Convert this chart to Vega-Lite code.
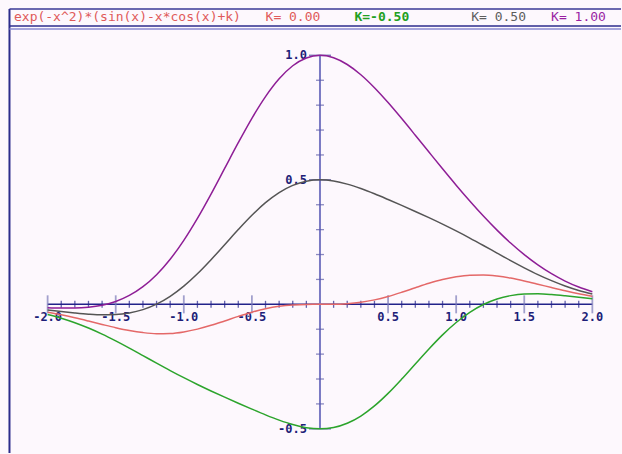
{
  "$schema": "https://vega.github.io/schema/vega-lite/v6.json",
  "width": 622,
  "height": 454,
  "autosize": {"type": "fit", "contains": "padding"},
  "padding": 0,
  "background": "#fdf8fd",
  "config": {"view": {"stroke": null}},
  "datasets": {
    "one": [{}],
    "curves": [
      {"x": -2.0, "k0": -0.0319, "km": -0.0411, "kp": -0.0227, "k1": -0.0136},
      {"x": -1.9, "k0": -0.0422, "km": -0.0557, "kp": -0.0287, "k1": -0.0152},
      {"x": -1.8, "k0": -0.0542, "km": -0.0737, "kp": -0.0346, "k1": -0.0150},
      {"x": -1.7, "k0": -0.0673, "km": -0.0951, "kp": -0.0395, "k1": -0.0117},
      {"x": -1.6, "k0": -0.0809, "km": -0.1195, "kp": -0.0422, "k1": -0.0036},
      {"x": -1.5, "k0": -0.0940, "km": -0.1467, "kp": -0.0413, "k1": 0.0114},
      {"x": -1.4, "k0": -0.1053, "km": -0.1757, "kp": -0.0349, "k1": 0.0356},
      {"x": -1.3, "k0": -0.1136, "km": -0.2059, "kp": -0.0214, "k1": 0.0709},
      {"x": -1.2, "k0": -0.1178, "km": -0.2363, "kp": 0.0007, "k1": 0.1191},
      {"x": -1.1, "k0": -0.1170, "km": -0.2661, "kp": 0.0321, "k1": 0.1812},
      {"x": -1.0, "k0": -0.1108, "km": -0.2947, "kp": 0.0731, "k1": 0.2571},
      {"x": -0.9, "k0": -0.0996, "km": -0.3220, "kp": 0.1228, "k1": 0.3453},
      {"x": -0.8, "k0": -0.0844, "km": -0.3480, "kp": 0.1793, "k1": 0.4429},
      {"x": -0.7, "k0": -0.0667, "km": -0.3730, "kp": 0.2396, "k1": 0.5460},
      {"x": -0.6, "k0": -0.0484, "km": -0.3973, "kp": 0.3004, "k1": 0.6492},
      {"x": -0.5, "k0": -0.0316, "km": -0.4210, "kp": 0.3578, "k1": 0.7472},
      {"x": -0.4, "k0": -0.0179, "km": -0.4440, "kp": 0.4082, "k1": 0.8343},
      {"x": -0.3, "k0": -0.0082, "km": -0.4651, "kp": 0.4488, "k1": 0.9058},
      {"x": -0.2, "k0": -0.0026, "km": -0.4829, "kp": 0.4778, "k1": 0.9582},
      {"x": -0.1, "k0": -0.0003, "km": -0.4954, "kp": 0.4947, "k1": 0.9897},
      {"x": 0.0, "k0": 0.0, "km": -0.5, "kp": 0.5, "k1": 1.0},
      {"x": 0.1, "k0": 0.0003, "km": -0.4947, "kp": 0.4954, "k1": 0.9904},
      {"x": 0.2, "k0": 0.0026, "km": -0.4778, "kp": 0.4829, "k1": 0.9633},
      {"x": 0.3, "k0": 0.0082, "km": -0.4488, "kp": 0.4651, "k1": 0.9221},
      {"x": 0.4, "k0": 0.0179, "km": -0.4082, "kp": 0.4440, "k1": 0.8700},
      {"x": 0.5, "k0": 0.0316, "km": -0.3578, "kp": 0.4210, "k1": 0.8104},
      {"x": 0.6, "k0": 0.0484, "km": -0.3004, "kp": 0.3973, "k1": 0.7461},
      {"x": 0.7, "k0": 0.0667, "km": -0.2396, "kp": 0.3730, "k1": 0.6793},
      {"x": 0.8, "k0": 0.0844, "km": -0.1793, "kp": 0.3480, "k1": 0.6117},
      {"x": 0.9, "k0": 0.0996, "km": -0.1228, "kp": 0.3220, "k1": 0.5445},
      {"x": 1.0, "k0": 0.1108, "km": -0.0731, "kp": 0.2947, "k1": 0.4787},
      {"x": 1.1, "k0": 0.1170, "km": -0.0321, "kp": 0.2661, "k1": 0.4152},
      {"x": 1.2, "k0": 0.1178, "km": -0.0007, "kp": 0.2363, "k1": 0.3547},
      {"x": 1.3, "k0": 0.1136, "km": 0.0214, "kp": 0.2059, "k1": 0.2981},
      {"x": 1.4, "k0": 0.1053, "km": 0.0349, "kp": 0.1757, "k1": 0.2461},
      {"x": 1.5, "k0": 0.0940, "km": 0.0413, "kp": 0.1467, "k1": 0.1994},
      {"x": 1.6, "k0": 0.0809, "km": 0.0422, "kp": 0.1195, "k1": 0.1582},
      {"x": 1.7, "k0": 0.0673, "km": 0.0395, "kp": 0.0951, "k1": 0.1229},
      {"x": 1.8, "k0": 0.0542, "km": 0.0346, "kp": 0.0737, "k1": 0.0933},
      {"x": 1.9, "k0": 0.0422, "km": 0.0287, "kp": 0.0557, "k1": 0.0693},
      {"x": 2.0, "k0": 0.0319, "km": 0.0227, "kp": 0.0411, "k1": 0.0502}
    ],
    "xMajor": [
      {"v": -2.0, "label": "-2.0"}, {"v": -1.5, "label": "-1.5"},
      {"v": -1.0, "label": "-1.0"}, {"v": -0.5, "label": "-0.5"},
      {"v": 0.5, "label": "0.5"}, {"v": 1.0, "label": "1.0"},
      {"v": 1.5, "label": "1.5"}, {"v": 2.0, "label": "2.0"}
    ],
    "xMinor": [
      {"v": -1.9}, {"v": -1.8}, {"v": -1.7}, {"v": -1.6},
      {"v": -1.4}, {"v": -1.3}, {"v": -1.2}, {"v": -1.1},
      {"v": -0.9}, {"v": -0.8}, {"v": -0.7}, {"v": -0.6},
      {"v": -0.4}, {"v": -0.3}, {"v": -0.2}, {"v": -0.1},
      {"v": 0.1}, {"v": 0.2}, {"v": 0.3}, {"v": 0.4},
      {"v": 0.6}, {"v": 0.7}, {"v": 0.8}, {"v": 0.9},
      {"v": 1.1}, {"v": 1.2}, {"v": 1.3}, {"v": 1.4},
      {"v": 1.6}, {"v": 1.7}, {"v": 1.8}, {"v": 1.9}
    ],
    "yMajor": [
      {"v": 1.0, "label": "1.0"}, {"v": 0.5, "label": "0.5"}, {"v": -0.5, "label": "-0.5"}
    ],
    "yMinor": [
      {"v": -0.4}, {"v": -0.3}, {"v": -0.2}, {"v": -0.1},
      {"v": 0.1}, {"v": 0.2}, {"v": 0.3}, {"v": 0.4},
      {"v": 0.6}, {"v": 0.7}, {"v": 0.8}, {"v": 0.9}
    ]
  },
  "layer": [
    {
      "description": "frame: left border",
      "data": {"name": "one"},
      "mark": {"type": "rule", "color": "#2c2c8c", "strokeWidth": 2},
      "encoding": {
        "x": {"datum": -2.2801, "type": "quantitative", "scale": {"domain": [-2.3497, 2.2104], "nice": false, "zero": false}, "axis": null},
        "y": {"datum": 1.1863, "type": "quantitative", "scale": {"domain": [-0.5972, 1.2224], "nice": false, "zero": false}, "axis": null},
        "y2": {"datum": -0.5972}
      }
    },
    {
      "description": "frame: header box top",
      "data": {"name": "one"},
      "mark": {"type": "rule", "color": "#3a3a96", "strokeWidth": 1.5},
      "encoding": {
        "x": {"datum": -2.2801, "type": "quantitative"},
        "x2": {"datum": 2.2104},
        "y": {"datum": 1.1863, "type": "quantitative"}
      }
    },
    {
      "description": "frame: header box bottom",
      "data": {"name": "one"},
      "mark": {"type": "rule", "color": "#2c2c8c", "strokeWidth": 1.5},
      "encoding": {
        "x": {"datum": -2.2801, "type": "quantitative"},
        "x2": {"datum": 2.2104},
        "y": {"datum": 1.1182, "type": "quantitative"}
      }
    },
    {
      "description": "frame: header box inner line",
      "data": {"name": "one"},
      "mark": {"type": "rule", "color": "#8a8ad0", "strokeWidth": 1.5},
      "encoding": {
        "x": {"datum": -2.2801, "type": "quantitative"},
        "x2": {"datum": 2.2104},
        "y": {"datum": 1.1062, "type": "quantitative"}
      }
    },
    {
      "data": {"name": "one"},
      "mark": {"type": "text", "align": "left", "baseline": "middle", "font": "DejaVu Sans Mono", "fontSize": 13, "color": "#e05a5a"},
      "encoding": {
        "x": {"datum": -2.2471, "type": "quantitative"},
        "y": {"datum": 1.1523, "type": "quantitative"},
        "text": {"value": "exp(-x^2)*(sin(x)-x*cos(x)+k)"}
      }
    },
    {
      "data": {"name": "one"},
      "mark": {"type": "text", "align": "left", "baseline": "middle", "font": "DejaVu Sans Mono", "fontSize": 13, "color": "#e05a5a"},
      "encoding": {
        "x": {"datum": -0.3996, "type": "quantitative"},
        "y": {"datum": 1.1523, "type": "quantitative"},
        "text": {"value": "K= 0.00"}
      }
    },
    {
      "data": {"name": "one"},
      "mark": {"type": "text", "align": "left", "baseline": "middle", "font": "DejaVu Sans Mono", "fontSize": 13, "fontWeight": "bold", "color": "#22a022"},
      "encoding": {
        "x": {"datum": 0.2529, "type": "quantitative"},
        "y": {"datum": 1.1523, "type": "quantitative"},
        "text": {"value": "K=-0.50"}
      }
    },
    {
      "data": {"name": "one"},
      "mark": {"type": "text", "align": "left", "baseline": "middle", "font": "DejaVu Sans Mono", "fontSize": 13, "color": "#5e5e5e"},
      "encoding": {
        "x": {"datum": 1.1107, "type": "quantitative"},
        "y": {"datum": 1.1523, "type": "quantitative"},
        "text": {"value": "K= 0.50"}
      }
    },
    {
      "data": {"name": "one"},
      "mark": {"type": "text", "align": "left", "baseline": "middle", "font": "DejaVu Sans Mono", "fontSize": 13, "color": "#9a1fa3"},
      "encoding": {
        "x": {"datum": 1.6972, "type": "quantitative"},
        "y": {"datum": 1.1523, "type": "quantitative"},
        "text": {"value": "K= 1.00"}
      }
    },
    {
      "description": "x axis line",
      "data": {"name": "one"},
      "mark": {"type": "rule", "color": "#22228a", "strokeWidth": 1.5},
      "encoding": {
        "x": {"datum": -2, "type": "quantitative"},
        "x2": {"datum": 2},
        "y": {"datum": 0, "type": "quantitative"}
      }
    },
    {
      "description": "y axis line",
      "data": {"name": "one"},
      "mark": {"type": "rule", "color": "#7a7ac4", "strokeWidth": 2},
      "encoding": {
        "x": {"datum": 0, "type": "quantitative"},
        "y": {"datum": -0.5, "type": "quantitative"},
        "y2": {"datum": 1.0}
      }
    },
    {
      "data": {"name": "xMinor"},
      "mark": {"type": "tick", "orient": "vertical", "size": 7, "thickness": 1.3, "color": "#22228a"},
      "encoding": {
        "x": {"field": "v", "type": "quantitative"},
        "y": {"datum": 0, "type": "quantitative"}
      }
    },
    {
      "data": {"name": "xMajor"},
      "mark": {"type": "tick", "orient": "vertical", "size": 18, "thickness": 1.8, "color": "#7a7ab8"},
      "encoding": {
        "x": {"field": "v", "type": "quantitative"},
        "y": {"datum": 0, "type": "quantitative"}
      }
    },
    {
      "data": {"name": "yMinor"},
      "mark": {"type": "tick", "orient": "horizontal", "size": 8, "thickness": 1.3, "color": "#5a5aa8"},
      "encoding": {
        "x": {"datum": 0, "type": "quantitative"},
        "y": {"field": "v", "type": "quantitative"}
      }
    },
    {
      "data": {"name": "yMajor"},
      "mark": {"type": "tick", "orient": "horizontal", "size": 22, "thickness": 1.6, "color": "#4a4aa0"},
      "encoding": {
        "x": {"datum": 0, "type": "quantitative"},
        "y": {"field": "v", "type": "quantitative"}
      }
    },
    {
      "data": {"name": "xMajor"},
      "mark": {"type": "text", "align": "center", "baseline": "middle", "dy": 13, "font": "DejaVu Sans Mono", "fontSize": 12, "fontWeight": "bold", "color": "#1e1e78"},
      "encoding": {
        "x": {"field": "v", "type": "quantitative"},
        "y": {"datum": 0, "type": "quantitative"},
        "text": {"field": "label"}
      }
    },
    {
      "data": {"name": "yMajor"},
      "mark": {"type": "text", "align": "right", "baseline": "middle", "dx": -13, "font": "DejaVu Sans Mono", "fontSize": 12, "fontWeight": "bold", "color": "#1e1e78"},
      "encoding": {
        "x": {"datum": 0, "type": "quantitative"},
        "y": {"field": "v", "type": "quantitative"},
        "text": {"field": "label"}
      }
    },
    {
      "data": {"name": "curves"},
      "transform": [{"fold": ["k0", "km", "kp", "k1"], "as": ["k", "f"]}],
      "mark": {"type": "line", "interpolate": "monotone", "strokeWidth": 1.5},
      "encoding": {
        "x": {"field": "x", "type": "quantitative"},
        "y": {"field": "f", "type": "quantitative"},
        "color": {
          "field": "k",
          "type": "nominal",
          "scale": {"domain": ["k0", "km", "kp", "k1"], "range": ["#e46868", "#2ca42c", "#555555", "#8e1e96"]},
          "legend": null
        }
      }
    }
  ]
}
